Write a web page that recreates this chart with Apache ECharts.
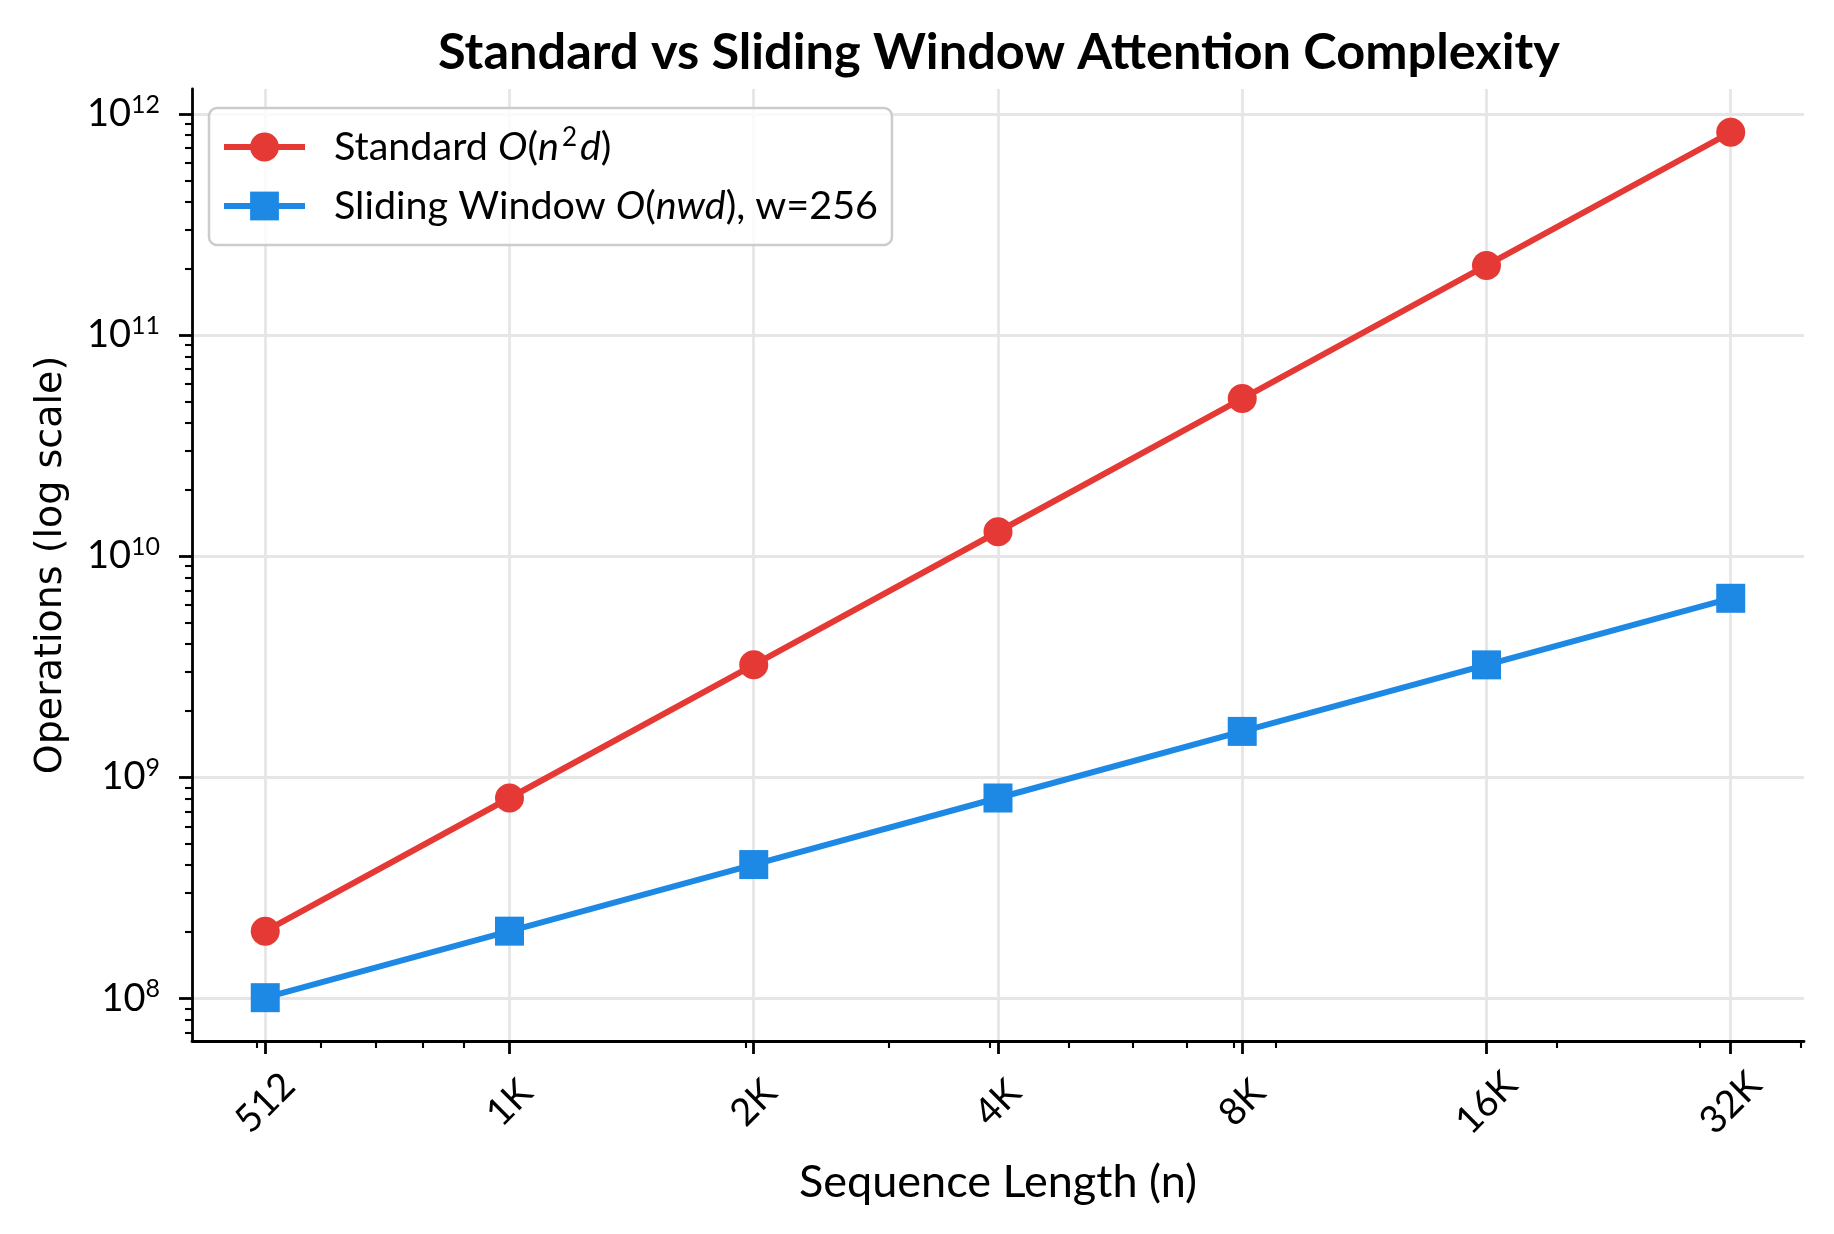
<!DOCTYPE html>
<html>
<head>
<meta charset="utf-8">
<script src="https://cdn.jsdelivr.net/npm/echarts@6/dist/echarts.min.js"></script>
<style>
html,body{margin:0;padding:0;background:#ffffff;}
#chart{width:1834px;height:1234px;}
</style>
</head>
<body>
<div id="chart"></div>
<script>
// ---- data ----
const seqLengths = [512, 1024, 2048, 4096, 8192, 16384, 32768];
const xTickLabels = ['512', '1K', '2K', '4K', '8K', '16K', '32K'];
const standardOps = [2.013e8, 8.053e8, 3.221e9, 1.288e10, 5.154e10, 2.062e11, 8.246e11];
const slidingOps = [1.007e8, 2.013e8, 4.027e8, 8.053e8, 1.611e9, 3.221e9, 6.442e9];
const yMajorTicks = [1e8, 1e9, 1e10, 1e11, 1e12];
const yMinorTicks = [7e7, 8e7, 9e7,
  2e8, 3e8, 4e8, 5e8, 6e8, 7e8, 8e8, 9e8,
  2e9, 3e9, 4e9, 5e9, 6e9, 7e9, 8e9, 9e9,
  2e10, 3e10, 4e10, 5e10, 6e10, 7e10, 8e10, 9e10,
  2e11, 3e11, 4e11, 5e11, 6e11, 7e11, 8e11, 9e11];
const xMinorTicks = [500, 600, 700, 800, 900,
  2000, 3000, 4000, 5000, 6000, 7000, 8000, 9000,
  20000, 30000, 40000];
const seriesNames = ['Standard', 'Sliding'];
const legendLabels = {
  'Standard': 'Standard {it|O}({it|n}{sup|2}{it|d})',
  'Sliding': 'Sliding Window {it|O}({it|nwd}), w=256'
};

const FONT = 'Lato';
const RED = '#E53935';
const BLUE = '#1E88E5';
const GRIDC = '#e6e6e6';

const xMin = 415.9, xMax = 40342;
const yMin = 6.414e7, yMax = 1.294e12;

const chart = echarts.init(document.getElementById('chart'), null, {renderer: 'canvas'});

const option = {
  animation: false,
  backgroundColor: '#ffffff',
  title: {
    text: 'Standard vs Sliding Window Attention Complexity',
    left: 994,
    top: 22,
    textAlign: 'center',
    textStyle: {fontFamily: FONT, fontWeight: 'bold', fontSize: 50.5, color: '#000'}
  },
  grid: {left: 192, top: 89, width: 1612, height: 952, containLabel: false},
  legend: {
    orient: 'vertical',
    left: 209,
    top: 108,
    padding: [17, 14, 17, 12],
    itemGap: 15,
    itemWidth: 81,
    itemHeight: 36,
    backgroundColor: 'rgba(255,255,255,0.8)',
    borderColor: '#cccccc',
    borderWidth: 2.5,
    borderRadius: 8,
    data: seriesNames,
    lineStyle: {width: 6},
    formatter: function (name) { return legendLabels[name]; },
    textStyle: {
      fontFamily: FONT, fontSize: 39.5, color: '#000', lineHeight: 44,
      padding: [0, 0, 0, 24],
      rich: {
        it: {fontFamily: FONT, fontSize: 39.5, fontStyle: 'italic', color: '#000', lineHeight: 44},
        sup: {fontFamily: FONT, fontSize: 26, color: '#000', lineHeight: 26, padding: [0, 3, 18, 3]}
      }
    }
  },
  xAxis: [
    {
      type: 'log', logBase: 2, min: xMin, max: xMax, gridIndex: 0, position: 'bottom',
      axisLine: {show: true, lineStyle: {color: '#000', width: 2.8}},
      axisTick: {show: true, customValues: seqLengths, length: 13, lineStyle: {color: '#000', width: 2.8}},
      axisLabel: {
        show: true, customValues: seqLengths, rotate: 45, align: 'center', verticalAlign: 'middle',
        margin: 62, fontFamily: FONT, fontSize: 38, color: '#000',
        formatter: function (v) {
          const i = seqLengths.findIndex(s => Math.abs(s - v) / s < 1e-6);
          return i >= 0 ? xTickLabels[i] : '';
        }
      },
      splitLine: {show: true, lineStyle: {color: GRIDC, width: 2.8}},
      minorTick: {show: false}, minorSplitLine: {show: false},
      name: 'Sequence Length (n)', nameLocation: 'middle', nameGap: 119,
      nameTextStyle: {fontFamily: FONT, fontSize: 45, color: '#000'}
    },
    {
      type: 'log', logBase: 2, min: xMin, max: xMax, gridIndex: 0, position: 'bottom',
      axisLine: {show: false},
      axisTick: {show: true, customValues: xMinorTicks, length: 7, lineStyle: {color: '#000', width: 2.1}},
      axisLabel: {show: false},
      splitLine: {show: false}
    }
  ],
  yAxis: [
    {
      type: 'log', logBase: 10, min: yMin, max: yMax, gridIndex: 0, position: 'left',
      axisLine: {show: true, lineStyle: {color: '#000', width: 2.8}},
      axisTick: {show: true, customValues: yMajorTicks, length: 13, lineStyle: {color: '#000', width: 2.8}},
      axisLabel: {
        show: true, customValues: yMajorTicks, margin: 32, align: 'right',
        fontFamily: FONT, fontSize: 38, color: '#000', lineHeight: 46,
        formatter: function (v) {
          const e = Math.round(Math.log10(v));
          return '10{sup|' + e + '}';
        },
        rich: {
          sup: {fontFamily: FONT, fontSize: 25, color: '#000', lineHeight: 25, padding: [0, 0, 18, 0]}
        }
      },
      splitLine: {show: true, lineStyle: {color: GRIDC, width: 2.8}},
      name: 'Operations (log scale)', nameLocation: 'middle', nameGap: 122, nameRotate: 90,
      nameTextStyle: {fontFamily: 'DejaVu Sans', fontSize: 38, color: '#000'}
    },
    {
      type: 'log', logBase: 10, min: yMin, max: yMax, gridIndex: 0, position: 'left',
      axisLine: {show: false},
      axisTick: {show: true, customValues: yMinorTicks, length: 7, lineStyle: {color: '#000', width: 2.1}},
      axisLabel: {show: false},
      splitLine: {show: false}
    }
  ],
  series: [
    {
      name: seriesNames[0], type: 'line', xAxisIndex: 0, yAxisIndex: 0,
      data: seqLengths.map((x, i) => [x, standardOps[i]]),
      symbol: 'circle', symbolSize: 29, showAllSymbol: true,
      lineStyle: {color: RED, width: 6}, itemStyle: {color: RED},
      z: 3
    },
    {
      name: seriesNames[1], type: 'line', xAxisIndex: 0, yAxisIndex: 0,
      data: seqLengths.map((x, i) => [x, slidingOps[i]]),
      symbol: 'rect', symbolSize: 29, showAllSymbol: true,
      lineStyle: {color: BLUE, width: 6}, itemStyle: {color: BLUE},
      z: 4
    }
  ]
};
chart.setOption(option);
</script>
</body>
</html>
